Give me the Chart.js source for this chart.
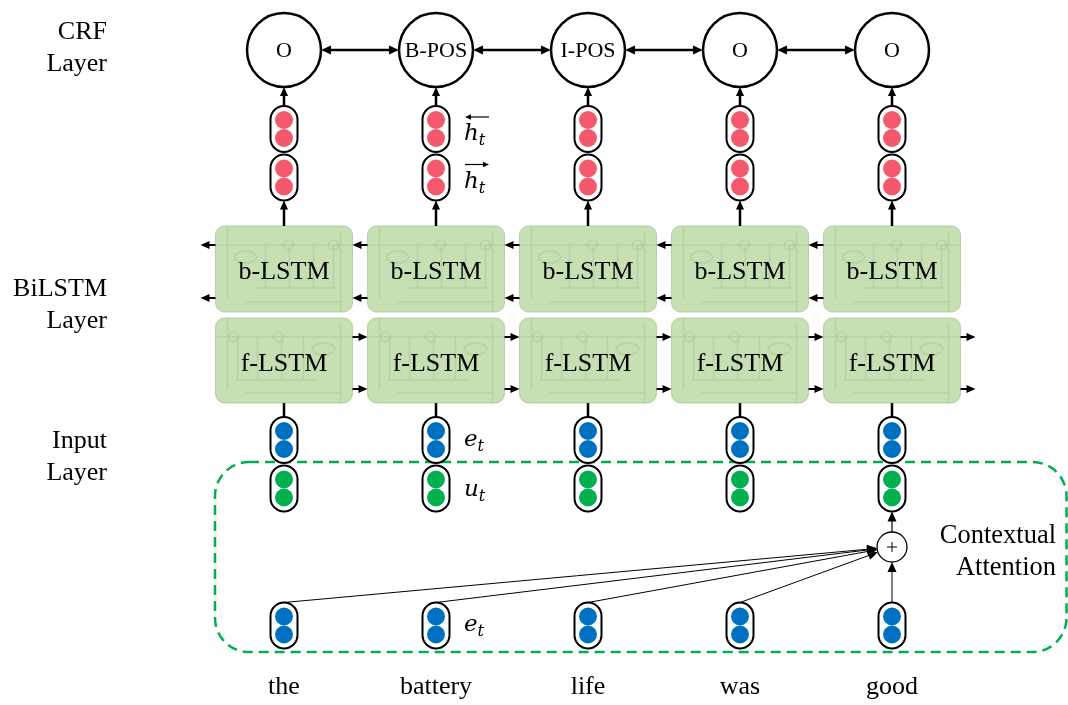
<!DOCTYPE html>
<html>
<head>
<meta charset="utf-8">
<script src="https://cdn.jsdelivr.net/npm/chart.js@4.4.0/dist/chart.umd.min.js"></script>
<style>
  html, body { margin: 0; padding: 0; background: #fff; overflow: hidden; }
  #wrap { position: relative; width: 1068px; height: 705px; }
</style>
</head>
<body>
<div id="wrap"><canvas id="chart"></canvas></div>
<script>
// diagram content
const words = ["the", "battery", "life", "was", "good"];
const tags = ["O", "B-POS", "I-POS", "O", "O"];
const layerNames = [["CRF", "Layer"], ["BiLSTM", "Layer"], ["Input", "Layer"]];
const cellNames = ["b-LSTM", "f-LSTM"];
const attnSources = ["the", "battery", "life", "was", "good"];
const attnTarget = "good";
const attnLabel = ["Contextual", "Attention"];
const noteSymbols = ["h", "h", "e", "u", "e"];
const noteArrows = ["left", "right", "", "", ""];
const noteColumn = "battery";

// layout (y units of the chart, top = 0)
const ROW = { crf: 50, hBack: 129, hFwd: 177.5, bCell: 269, fCell: 360.5, emb: 440, ctx: 488.5, plus: 547, embLow: 625.5 };
const layerAt = [48, 305, 457];
const noteRows = [ROW.hBack, ROW.hFwd, ROW.emb, ROW.ctx, ROW.embLow];
const SERIF = "'Liberation Serif', 'Times New Roman', serif";
const MATH = "'DejaVu Serif', serif";
const RED = "#f3586d", BLUE = "#0070c0", GREEN = "#00b050", CELL = "#c6e0b4";

const column = rows => words.flatMap(w => rows.map(r => ({ x: w, y: r })));
const pair = r => [r - 9, r + 9];

function arrow(ctx, x1, y1, x2, y2, lw, head) {
  const a = Math.atan2(y2 - y1, x2 - x1), c = Math.cos(a), s = Math.sin(a);
  ctx.lineWidth = lw;
  ctx.beginPath();
  ctx.moveTo(x1, y1);
  ctx.lineTo(x2 - head * 0.8 * c, y2 - head * 0.8 * s);
  ctx.stroke();
  ctx.beginPath();
  ctx.moveTo(x2, y2);
  ctx.lineTo(x2 - head * c + head * 0.45 * s, y2 - head * s - head * 0.45 * c);
  ctx.lineTo(x2 - head * c - head * 0.45 * s, y2 - head * s + head * 0.45 * c);
  ctx.closePath();
  ctx.fill();
}

function roundRect(ctx, x, y, w, h, r) {
  ctx.beginPath();
  ctx.roundRect(x, y, w, h, r);
}

const diagram = {
  id: "diagram",
  beforeDatasetsDraw(chart) {
    const { ctx, scales: { x, y } } = chart;
    const X = w => x.getPixelForValue(words.indexOf(w));
    const half = 68.5;
    ctx.save();
    ctx.strokeStyle = "#000";
    ctx.fillStyle = "#000";

    // dashed attention frame
    ctx.save();
    ctx.strokeStyle = GREEN;
    ctx.lineWidth = 2.5;
    ctx.setLineDash([10, 6]);
    const fl = X(words[0]) - 69;
    roundRect(ctx, fl, y.getPixelForValue(462), chart.width - 1.5 - fl, y.getPixelForValue(652) - y.getPixelForValue(462), 34);
    ctx.stroke();
    ctx.restore();

    // LSTM cells
    const cells = [
      { row: ROW.bCell, top: 226, h: 86 },
      { row: ROW.fCell, top: 318, h: 85 }
    ];
    words.forEach((w, i) => {
      const cx = X(w);
      cells.forEach((c, k) => {
        const L = cx - half, T = y.getPixelForValue(c.top);
        const H = y.getPixelForValue(c.top + c.h) - T;
        ctx.fillStyle = CELL;
        roundRect(ctx, L, T, half * 2, H, 9);
        ctx.fill();
        ctx.strokeStyle = "rgba(150,190,130,0.6)";
        ctx.lineWidth = 1;
        ctx.stroke();
        // faint cell internals
        ctx.strokeStyle = "rgba(100,145,85,0.16)";
        ctx.lineWidth = 1.5;
        ctx.beginPath();
        ctx.moveTo(L, T + 19); ctx.lineTo(L + 137, T + 19);
        ctx.moveTo(L + 12, T); ctx.lineTo(L + 12, T + 72);
        ctx.moveTo(L + 30, T + H - 10); ctx.lineTo(L + 125, T + H - 10);
        ctx.moveTo(L + 125, T + H); ctx.lineTo(L + 125, T + 5);
        if (k === 0) {
          ctx.moveTo(L + 40, T + 62); ctx.lineTo(L + 120, T + 62);
          [50, 74, 98, 118].forEach(d => { ctx.moveTo(L + d, T + 62); ctx.lineTo(L + d, T + 19); });
        } else {
          ctx.moveTo(L + 20, T + 62); ctx.lineTo(L + 100, T + 62);
          [22, 42, 66, 88].forEach(d => { ctx.moveTo(L + d, T + 62); ctx.lineTo(L + d, T + 19); });
        }
        ctx.stroke();
        [k === 0 ? 73 : 18, k === 0 ? 118 : 63].forEach(d => {
          ctx.beginPath(); ctx.arc(L + d, T + 19, 5, 0, Math.PI * 2); ctx.stroke();
        });
        ctx.beginPath(); ctx.ellipse(L + (k === 0 ? 30 : 108), T + 31, 11, 6, 0, 0, Math.PI * 2); ctx.stroke();
        ctx.fillStyle = "#000";
        ctx.font = "26px " + SERIF;
        ctx.textAlign = "center";
        ctx.textBaseline = "middle";
        ctx.fillText(cellNames[k], cx, T + 46);
      });
    });

    ctx.strokeStyle = "#000";
    ctx.fillStyle = "#000";
    // backward arrows (b-LSTM) and forward arrows (f-LSTM)
    words.forEach((w, i) => {
      const cx = X(w);
      [ROW.bCell - 24, ROW.bCell + 29].forEach(r => {
        const py = y.getPixelForValue(r);
        const end = i > 0 ? X(words[i - 1]) + half : cx - half - 15;
        arrow(ctx, cx - half, py, end, py, 2, 9);
      });
      [ROW.fCell - 23.5, ROW.fCell + 28.5].forEach(r => {
        const py = y.getPixelForValue(r);
        const end = i < words.length - 1 ? X(words[i + 1]) - half : cx + half + 15;
        arrow(ctx, cx + half, py, end, py, 2, 9);
      });
      // vertical links
      arrow(ctx, cx, y.getPixelForValue(226), cx, y.getPixelForValue(ROW.hFwd + 23), 2.5, 9);
      arrow(ctx, cx, y.getPixelForValue(ROW.hBack - 23), cx, y.getPixelForValue(ROW.crf + 37), 2.5, 9);
      ctx.lineWidth = 2.5;
      ctx.beginPath();
      ctx.moveTo(cx, y.getPixelForValue(403));
      ctx.lineTo(cx, y.getPixelForValue(ROW.emb - 23));
      ctx.stroke();
      // CRF transitions
      if (i < words.length - 1) {
        const py = y.getPixelForValue(ROW.crf);
        const a = cx + 37, b = X(words[i + 1]) - 37;
        arrow(ctx, (a + b) / 2, py, b, py, 2.5, 10);
        arrow(ctx, (a + b) / 2, py, a, py, 2.5, 10);
      }
    });

    // vector pills
    const pills = [ROW.hBack, ROW.hFwd, ROW.emb, ROW.ctx, ROW.embLow];
    words.forEach(w => {
      const cx = X(w);
      pills.forEach(r => {
        ctx.fillStyle = "#fff";
        roundRect(ctx, cx - 13.5, y.getPixelForValue(r) - 23, 27, 46, 13.5);
        ctx.fill();
        ctx.lineWidth = 2;
        ctx.stroke();
      });
    });

    // attention links
    ctx.fillStyle = "#000";
    const tx = X(attnTarget), ty = y.getPixelForValue(ROW.plus);
    attnSources.forEach(w => {
      const sx = X(w), sy = y.getPixelForValue(ROW.embLow - 23);
      const a = Math.atan2(sy - ty, sx - tx);
      arrow(ctx, sx, sy, tx + 15 * Math.cos(a), ty + 15 * Math.sin(a), 1, 10);
    });
    arrow(ctx, tx, ty - 15, tx, y.getPixelForValue(ROW.ctx + 23), 1.2, 10);
    ctx.restore();
  },
  afterDatasetsDraw(chart) {
    const { ctx, scales: { x, y } } = chart;
    const X = w => x.getPixelForValue(words.indexOf(w));
    ctx.save();
    ctx.fillStyle = "#000";
    ctx.strokeStyle = "#000";
    ctx.textAlign = "center";
    ctx.textBaseline = "middle";
    ctx.font = "22px " + SERIF;
    tags.forEach((t, i) => ctx.fillText(t, X(words[i]), y.getPixelForValue(ROW.crf) + 1));

    // plus sign
    const tx = X(attnTarget), ty = y.getPixelForValue(ROW.plus);
    ctx.lineWidth = 1;
    ctx.beginPath();
    ctx.moveTo(tx - 5, ty); ctx.lineTo(tx + 5, ty);
    ctx.moveTo(tx, ty - 5); ctx.lineTo(tx, ty + 5);
    ctx.stroke();

    // math notes next to one column
    const nx = X(noteColumn) + 28;
    const base = [11, 10, 6, 7, 5];
    ctx.textAlign = "left";
    ctx.textBaseline = "alphabetic";
    noteSymbols.forEach((s, i) => {
      const by = y.getPixelForValue(noteRows[i]) + base[i];
      ctx.font = "italic 23px " + MATH;
      ctx.fillText(s, nx, by);
      const sw = ctx.measureText(s).width;
      ctx.font = "italic 16px " + MATH;
      ctx.fillText("t", nx + sw, by + 5);
      if (noteArrows[i]) {
        const ay = by - 23;
        const l = nx + 1, r = nx + 25;
        if (noteArrows[i] === "left") arrow(ctx, r, ay, l, ay, 1.2, 6);
        else arrow(ctx, l, ay, r, ay, 1.2, 6);
      }
    });

    // attention label
    ctx.font = "26.5px " + SERIF;
    ctx.textAlign = "right";
    ctx.textBaseline = "middle";
    ctx.fillText(attnLabel[0], chart.width - 12, y.getPixelForValue(536));
    ctx.fillText(attnLabel[1], chart.width - 12, y.getPixelForValue(568));
    ctx.restore();
  }
};

const dot = (data, color, r) => ({
  data: data,
  showLine: false,
  clip: false,
  pointRadius: r,
  pointBackgroundColor: color,
  pointBorderWidth: 0,
  pointBorderColor: color
});

const noPad = s => { s.paddingTop = 0; s.paddingBottom = 0; s.paddingLeft = 0; s.paddingRight = 0; };

new Chart(document.getElementById("chart").getContext("2d"), {
  type: "line",
  data: {
    labels: words,
    datasets: [
      dot(column(pair(ROW.hBack).concat(pair(ROW.hFwd))), RED, 9),
      dot(column(pair(ROW.emb).concat(pair(ROW.embLow))), BLUE, 9),
      dot(column(pair(ROW.ctx)), GREEN, 9),
      {
        data: words.map(w => ({ x: w, y: ROW.crf })),
        showLine: false,
        clip: false,
        pointRadius: 37,
        pointBackgroundColor: "#fff",
        pointBorderColor: "#000",
        pointBorderWidth: 2.5
      },
      {
        data: [{ x: attnTarget, y: ROW.plus }],
        showLine: false,
        clip: false,
        pointRadius: 15,
        pointBackgroundColor: "#fff",
        pointBorderColor: "#000",
        pointBorderWidth: 1.3
      }
    ]
  },
  options: {
    responsive: true,
    maintainAspectRatio: false,
    animation: false,
    events: [],
    devicePixelRatio: 1,
    layout: { autoPadding: false, padding: { top: 0, right: 100, left: 0, bottom: 0 } },
    plugins: { legend: { display: false }, tooltip: { enabled: false } },
    scales: {
      x: {
        type: "category",
        offset: true,
        grid: { display: false, drawTicks: false },
        border: { display: false },
        ticks: { color: "#000", font: { family: SERIF, size: 26 }, padding: 12, autoSkip: false, maxRotation: 0 },
        afterFit: s => { s.height = 45; noPad(s); }
      },
      y: {
        type: "linear",
        min: 0,
        max: 660,
        reverse: true,
        grid: { display: false, drawTicks: false },
        border: { display: false },
        afterBuildTicks: s => { s.ticks = layerAt.map(v => ({ value: v })); },
        ticks: {
          color: "#000",
          font: { family: SERIF, size: 26, lineHeight: 1.25 },
          padding: 101,
          autoSkip: false,
          callback: (v, i) => layerNames[i]
        },
        afterFit: s => { s.width = 208; noPad(s); }
      }
    }
  },
  plugins: [diagram]
});
</script>
</body>
</html>
